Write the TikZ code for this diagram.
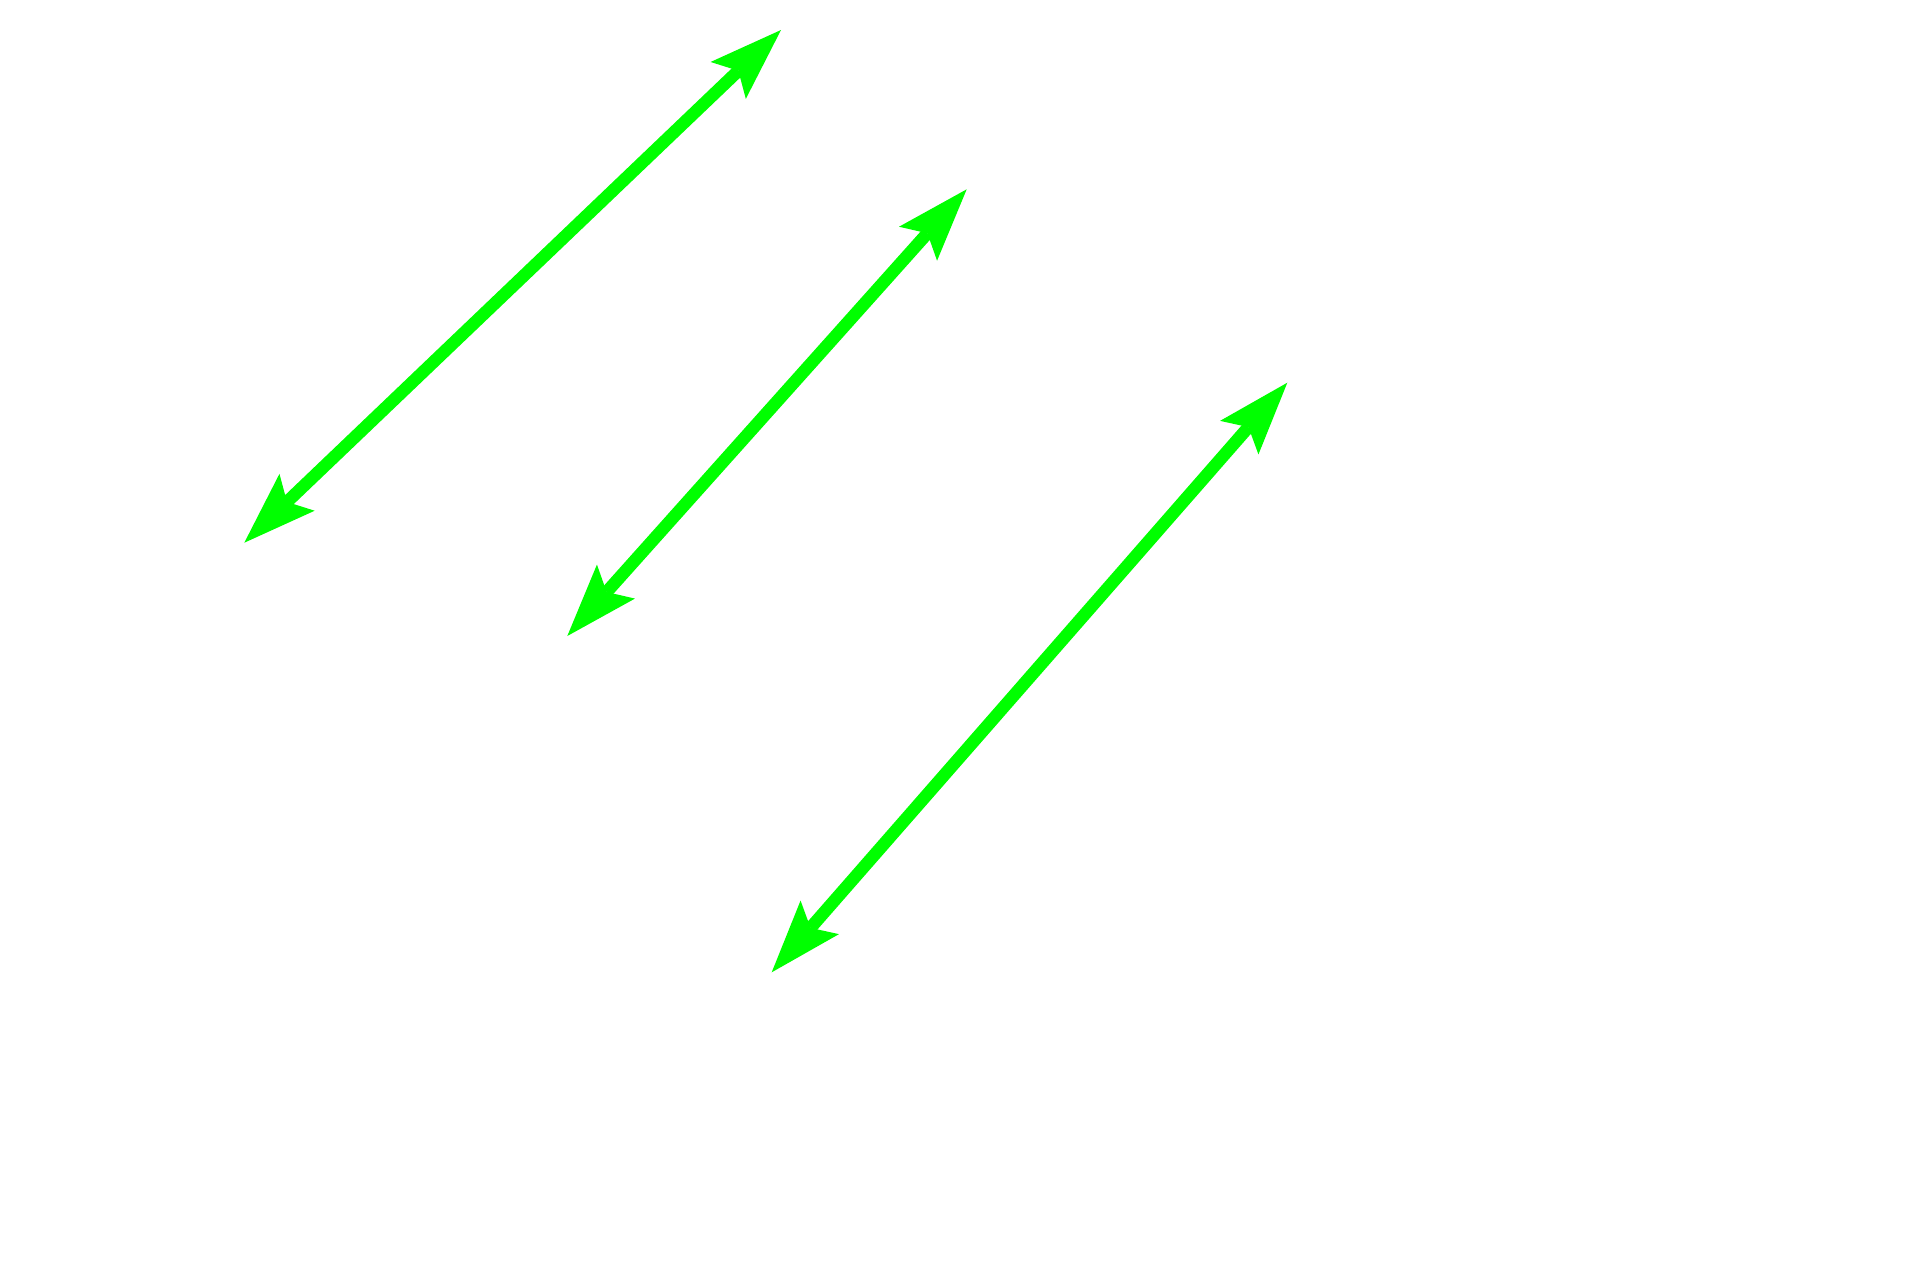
\documentclass[tikz,border=0pt]{standalone}
\usetikzlibrary{arrows.meta}
\definecolor{arrowgreen}{RGB}{0,255,0}
\tikzset{
  greenarrow/.style={draw=arrowgreen, line width=12.5pt,
    {Stealth[length=73pt,width=51pt,inset=14pt,line width=0pt]}-{Stealth[length=73pt,width=51pt,inset=14pt,line width=0pt]}}
}
\begin{document}
\begin{tikzpicture}[x=1pt,y=-1pt]
\fill[white] (0,0) rectangle (1920,1280);
\useasboundingbox (0,0) rectangle (1920,1280);
\coordinate (a1s) at (244.3,542.7);
\coordinate (a1e) at (781,30);
\coordinate (a2s) at (567.3,636);
\coordinate (a2e) at (966.7,189.3);
\coordinate (a3s) at (771.7,972.3);
\coordinate (a3e) at (1287.3,382.7);
\draw[greenarrow] (a1s) -- (a1e);
\draw[greenarrow] (a2s) -- (a2e);
\draw[greenarrow] (a3s) -- (a3e);
\end{tikzpicture}
\end{document}
